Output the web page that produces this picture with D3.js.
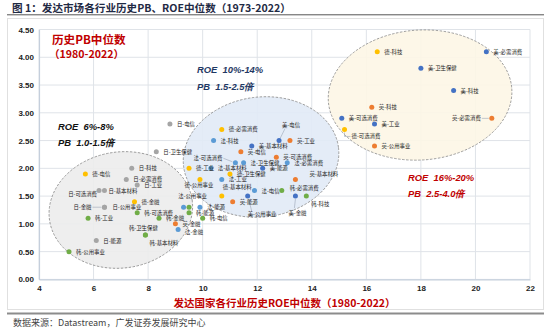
<!DOCTYPE html>
<html><head><meta charset="utf-8">
<script src="https://cdn.jsdelivr.net/npm/d3@7"></script>
<style>body{margin:0;background:#fff}svg{display:block}</style>
</head><body>
<svg id="c" width="550" height="329"></svg>
<script>
// ---- data ----
const countries = ["美","英","德","法","日","韩"];
const countryColors = ["#4472C4","#ED7D31","#FFC000","#5B9BD5","#A5A5A5","#70AD47"];

const names = [
"美-必需消费","美-卫生保健","美-科技","美-可选消费","美-工业","美-基本材料","美-电信","美-能源","美-金融","美-公用事业",
"英-科技","英-必需消费","英-公用事业","英-电信","英-工业","英-可选消费","英-基本材料","英-能源","英-金融",
"德-科技","德-可选消费","德-必需消费","德-电信","德-金融","德-工业","德-公用事业","德-卫生保健","德-基本材料",
"法-科技","法-可选消费","法-卫生保健","法-基本材料","法-工业","法-必需消费","法-电信","法-能源","法-公用事业","法-金融",
"日-电信","日-卫生保健","日-科技","日-必需消费","日-工业","日-可选消费","日-基本材料","日-金融","日-公用事业","日-能源",
"韩-必需消费","韩-科技","韩-可选消费","韩-工业","韩-能源","韩-金融","韩-电信","韩-卫生保健","韩-基本材料","韩-公用事业","韩-"
];
// historical median ROE (%)
const roe = [
20.4,18.0,19.2,15.1,16.3,11.8,12.8,12.2,13.4,11.65,
16.2,20.6,16.3,11.4,13.2,12.7,13.4,11.1,9.0,
16.4,15.2,10.7,5.7,7.5,9.5,9.9,11.0,10.7,
10.4,11.2,11.5,10.3,10.7,13.1,11.9,9.9,9.3,9.1,
8.8,8.3,7.4,7.2,7.6,6.2,6.4,6.4,6.4,6.1,
12.9,13.8,7.6,5.8,9.5,8.4,10.0,7.9,7.9,5.1,9.5
];
// historical median PB (x)
const pb = [
4.1,3.8,3.4,2.9,2.8,2.4,2.5,2.0,1.5,1.5,
3.1,2.9,2.4,2.3,2.5,2.2,1.8,1.4,1.0,
4.1,2.7,2.7,1.9,1.4,2.0,1.8,1.9,1.5,
2.5,2.1,2.1,2.0,1.8,2.1,1.6,1.3,1.3,0.9,
2.8,2.3,2.0,1.8,1.7,1.6,1.6,1.3,1.3,0.7,
1.6,1.5,1.2,1.1,1.2,1.1,1.1,0.8,0.8,0.5,1.3
];
const xTicks = [4,6,8,10,12,14,16,18,20,22];
const yTicks = [0,0.5,1,1.5,2,2.5,3,3.5,4,4.5];

// ---- layout ----
const svg = d3.select("#c");
const x = d3.scaleLinear().domain([4,22]).range([39,530]);
const y = d3.scaleLinear().domain([0,4.5]).range([279.4,29.5]);
const color = d3.scaleOrdinal().domain(countries).range(countryColors);
const CJK = "'Noto Sans CJK SC','Noto Sans',sans-serif";
const LAT = "'Liberation Sans',Arial,sans-serif";

// title
svg.append("text").attr("x",12).attr("y",12)
  .attr("font-family",CJK).attr("font-weight","bold").attr("font-size",10.6)
  .attr("fill","#1f2a44").text("图 1：发达市场各行业历史PB、ROE中位数（1973-2022）");
svg.append("line").attr("x1",7).attr("x2",544).attr("y1",14.8).attr("y2",14.8)
  .attr("stroke","#555").attr("stroke-width",1);

// panel
svg.append("rect").attr("x",7.5).attr("y",18.5).attr("width",536).attr("height",291)
  .attr("fill","#fff").attr("stroke","#e0e0e0").attr("stroke-width",1);
svg.append("line").attr("x1",7).attr("x2",544).attr("y1",313.5).attr("y2",313.5)
  .attr("stroke","#8c8c8c").attr("stroke-width",2);
svg.append("text").attr("x",13).attr("y",326)
  .attr("font-family",CJK).attr("font-size",9).attr("fill","#444")
  .text("数据来源：Datastream，广发证券发展研究中心");

// grid
const g = svg.append("g");
g.selectAll(".vg").data(xTicks).join("line")
  .attr("x1",d=>x(d)).attr("x2",d=>x(d)).attr("y1",y(4.5)).attr("y2",y(0))
  .attr("stroke","#dfe3e8").attr("stroke-width",1);
g.selectAll(".hg").data(yTicks).join("line")
  .attr("x1",x(4)).attr("x2",x(22)).attr("y1",d=>y(d)).attr("y2",d=>y(d))
  .attr("stroke","#dfe3e8").attr("stroke-width",1);

// axes
const yAxis = svg.append("g").attr("transform",`translate(${x(4)},0)`)
  .call(d3.axisLeft(y).tickValues(yTicks).tickFormat(d3.format(".2f")).tickSize(0).tickPadding(5));
const xAxis = svg.append("g").attr("transform",`translate(0,${y(0)})`)
  .call(d3.axisBottom(x).tickValues(xTicks).tickFormat(d3.format("d")).tickSize(0).tickPadding(6));
[yAxis,xAxis].forEach(a=>{
  a.select(".domain").attr("stroke","#c5cfdc").attr("stroke-width",1.2);
  a.selectAll("text").attr("font-family",LAT).attr("font-weight","bold").attr("font-size",8).attr("fill","#222");
});

// ellipses (data units)
const regions = [
  {cx:7.0, cy:1.25, rx:2.64, ry:1.045, rot:-8, fill:"#ececec"},
  {cx:12.14, cy:2.204, rx:2.86, ry:1.08, rot:-7, fill:"#e1eaf6"},
  {cx:17.97, cy:3.32, rx:3.37, ry:1.17, rot:-4, fill:"#fdf6e5"}
];
svg.append("g").selectAll("ellipse").data(regions).join("ellipse")
  .attr("cx",d=>x(d.cx)).attr("cy",d=>y(d.cy))
  .attr("rx",d=>x(d.cx+d.rx)-x(d.cx)).attr("ry",d=>y(d.cy-d.ry)-y(d.cy))
  .attr("transform",d=>`rotate(${d.rot},${x(d.cx)},${y(d.cy)})`)
  .attr("fill",d=>d.fill).attr("fill-opacity",0.9)
  .attr("stroke","#8a8a8a").attr("stroke-width",0.8).attr("stroke-dasharray","2.5,1.5");

// points
const pts = names.map((n,i)=>({name:n, c:n.split("-")[0], label:n.split("-")[1]?n:"", x:roe[i], y:pb[i]}));

// label placement (pixels relative to dot): dx, dy, anchor, leader
const place = {
 "英-必需消费":{dx:-11,dy:2,a:"end",l:[[-3,0],[-10,0]]},
 "德-可选消费":{dx:7,dy:9,a:"start",l:[[0,3],[0,7],[6,7]]},
 "美-电信":{dx:3,dy:-14,a:"start",l:[[1,-2],[6,-12]]},
 "英-基本材料":{dx:14,dy:-3,a:"start"},
 "韩-必需消费":{dx:8,dy:-1,a:"start"},
 "美-金融":{dx:-7,dy:19,a:"start",l:[[0,3],[-1,12]]},
 "韩-科技":{dx:5,dy:10,a:"start"},
 "法-可选消费":{dx:-13,dy:-2.5,a:"end",l:[[-12,-4.5],[-3,-1]]},
 "德-公用事业":{dx:-1,dy:7.5,a:"middle"},
 "法-公用事业":{dx:9,dy:-9,a:"middle"},
 "法-金融":{dx:7,dy:5,a:"start"},
 "韩-卫生保健":{dx:-2,dy:-4.5,a:"middle"},
 "韩-基本材料":{dx:4,dy:10,a:"start"},
 "日-可选消费":{dx:-2,dy:5,a:"end"},
 "日-金融":{dx:-13,dy:2,a:"end",l:[[-3,0],[-12,0]]},
 "日-公用事业":{dx:8,dy:2,a:"start"},
 "德-基本材料":{dx:1,dy:-7,a:"start"},
 "美-公用事业":{dx:0,dy:19.5,a:"start",l:[[1,3],[4,15]]},
 "日-基本材料":{dx:4,dy:2,a:"start"},
 "美-基本材料":{dx:7,dy:2,a:"start"}
};
const defPlace = {dx:7,dy:2,a:"start"};

const lead = svg.append("g");
pts.forEach(p=>{
  const pl = place[p.name];
  if(pl && pl.l && p.label){
    lead.append("polyline")
      .attr("points",pl.l.map(q=>[x(p.x)+q[0],y(p.y)+q[1]].join(",")).join(" "))
      .attr("fill","none").attr("stroke","#9aa5b5").attr("stroke-width",0.6);
  }
});

svg.append("g").selectAll("circle").data(pts).join("circle")
  .attr("cx",d=>x(d.x)).attr("cy",d=>y(d.y)).attr("r",2.5)
  .attr("fill",d=>color(d.c));

svg.append("g").selectAll("text").data(pts.filter(d=>d.label)).join("text")
  .attr("x",d=>x(d.x)+(place[d.name]||defPlace).dx)
  .attr("y",d=>y(d.y)+(place[d.name]||defPlace).dy)
  .attr("text-anchor",d=>(place[d.name]||defPlace).a)
  .attr("font-family",CJK).attr("font-size",5.4).attr("fill","#222")
  .text(d=>d.label);

// annotations
function ann(tx,ty,txt,fill,size,italic,family){
  svg.append("text").attr("x",tx).attr("y",ty).attr("font-family",family||LAT)
    .attr("font-weight","bold").attr("font-style",italic?"italic":"normal")
    .attr("font-size",size).attr("fill",fill).attr("xml:space","preserve").text(txt);
}
ann(52,44,"历史PB中位数","#c00000",11.6,false,CJK);
ann(49,58,"（1980-2022）","#c00000",10.6,false,CJK);
ann(197,72.5,"ROE  10%-14%","#1f3864",9.4,true);
ann(197,89.5,"PB  1.5-2.5倍","#1f3864",9.4,true);
ann(58,129.5,"ROE  6%-8%","#111",9.4,true);
ann(58,145.5,"PB  1.0-1.5倍","#111",9.4,true);
ann(408,180.5,"ROE  16%-20%","#c00000",9.4,true);
ann(408,196.5,"PB  2.5-4.0倍","#c00000",9.4,true);

// x axis title
svg.append("text").attr("x",(x(4)+x(22))/2).attr("y",307).attr("text-anchor","middle")
  .attr("font-family",CJK).attr("font-weight","bold").attr("font-size",10.5).attr("fill","#c00000")
  .text("发达国家各行业历史ROE中位数（1980-2022）");
</script>
</body></html>
